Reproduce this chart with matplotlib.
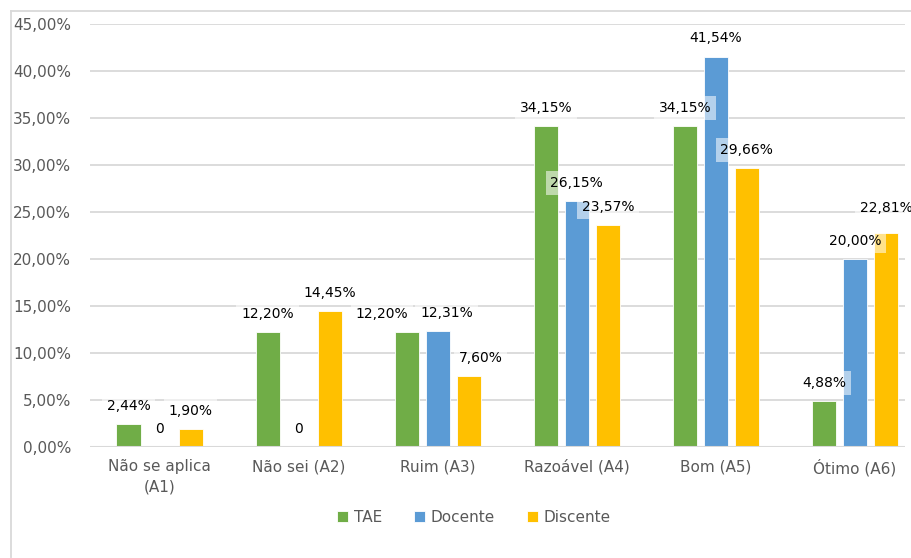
import matplotlib
matplotlib.use("Agg")
import matplotlib.pyplot as plt
from matplotlib.ticker import FuncFormatter, MultipleLocator
from matplotlib.lines import Line2D
import numpy as np

categories = ["Não se aplica\n(A1)", "Não sei (A2)", "Ruim (A3)", "Razoável (A4)", "Bom (A5)", "Ótimo (A6)"]
series_names = ["TAE", "Docente", "Discente"]
tae = [2.44, 12.20, 12.20, 34.15, 34.15, 4.88]
docente = [0.0, 0.0, 12.31, 26.15, 41.54, 20.00]
discente = [1.90, 14.45, 7.60, 23.57, 29.66, 22.81]
colors = ["#70AD47", "#5B9BD5", "#FFC000"]

# label nudges in points (dx, dy) keyed by (series index, category index)
nudges = {(0, 2): (-18, 0), (1, 2): (6.5, 0), (2, 2): (8.6, 0), (2, 5): (0, 5)}

plt.rcParams['font.family'] = ['DejaVu Sans']
fig = plt.figure(figsize=(9.12, 5.58), dpi=100)
ax = fig.add_axes([90/912, 1-447/558, (905-90)/912, (447-24)/558])

x = np.arange(len(categories))
step = 0.223
width = 0.173
data = [tae, docente, discente]
for i, (vals, name, c) in enumerate(zip(data, series_names, colors)):
    pos = x + (i - 1) * step
    vals_frac = [v / 100 for v in vals]
    bars = ax.bar(pos, vals_frac, width, color=c, label=name, zorder=3,
                  edgecolor="white", linewidth=0.6)
    for j, (b, v) in enumerate(zip(bars, vals)):
        txt = "0" if v == 0 else f"{v:.2f}%".replace(".", ",")
        dx, dy = nudges.get((i, j), (0, 0))
        ax.annotate(txt, (b.get_x() + b.get_width() / 2, b.get_height()),
                    xytext=(dx, 13 + dy), textcoords="offset points",
                    ha="center", va="center", fontsize=10, color="black", zorder=5,
                    bbox=dict(boxstyle="square,pad=0.35", fc="white", ec="none", alpha=0.55))

ax.set_ylim(0, 0.45)
ax.set_xlim(-0.5, 5.36)
ax.yaxis.set_major_locator(MultipleLocator(0.05))
ax.yaxis.set_major_formatter(FuncFormatter(lambda v, p: f"{v*100:.2f}%".replace(".", ",")))
ax.set_xticks(x)
ax.set_xticklabels(categories, linespacing=1.45)
ax.tick_params(axis="y", length=0, pad=13.5, labelsize=11, labelcolor="#595959")
ax.tick_params(axis="x", length=0, pad=9, labelsize=11, labelcolor="#595959")
for s in ax.spines.values():
    s.set_visible(False)
ax.grid(axis="y", color="#d9d9d9", linewidth=1.3, zorder=0)
ax.set_axisbelow(True)
ax.axhline(0, color="#d9d9d9", linewidth=1.5, zorder=4)

leg = fig.legend(loc="center", bbox_to_anchor=(474/912, 1-517/558), ncol=3, frameon=False,
                 fontsize=11, handlelength=0.7, handleheight=0.7, handletextpad=0.4,
                 columnspacing=2.1, labelcolor="#595959")

# chart area border (left and top visible)
fig.add_artist(Line2D([11/912, 11/912], [1-557/558, 1-10.5/558], color="#d9d9d9", linewidth=1.3))
fig.add_artist(Line2D([11/912, 1.0], [1-10.5/558, 1-10.5/558], color="#d9d9d9", linewidth=1.3))

fig.savefig("out.png", dpi=100)
